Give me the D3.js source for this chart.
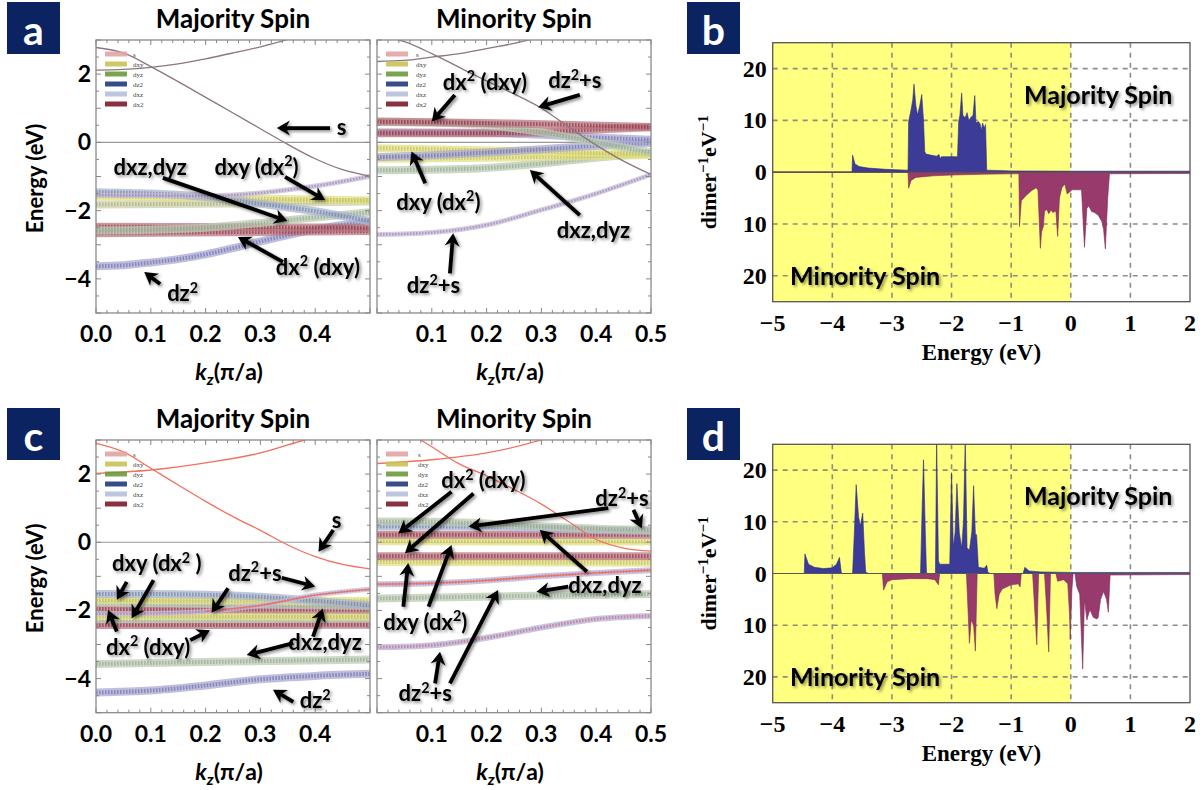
<!DOCTYPE html>
<html><head><meta charset="utf-8">
<script src="https://cdn.jsdelivr.net/npm/d3@7"></script>
<style>body{margin:0;background:#fff}svg{display:block}</style>
</head><body>
<svg id="fig" width="1203" height="790"></svg>
<script>
// ---------- band structure data: [kz (pi/a), energy (eV)] ----------
const orbitalNames = ['s','dxy','dyz','dz2','dxz','dx2'];

// (a) majority
const aMajThinDown = [[0,2.78],[0.05,2.62],[0.1,2.22],[0.15,1.78],[0.2,1.32],[0.25,0.86],[0.3,0.4],[0.35,-0.06],[0.4,-0.48],[0.45,-0.8],[0.5,-0.99]];
const aMajThinUp   = [[0,2.12],[0.05,2.14],[0.1,2.2],[0.15,2.3],[0.2,2.45],[0.25,2.62],[0.3,2.8],[0.35,3.02],[0.4,3.3]];
const aMajXZ   = [[0,-1.46],[0.1,-1.5],[0.2,-1.6],[0.3,-1.8],[0.4,-2.02],[0.5,-2.31]];
const aMajZS   = [[0,-1.55],[0.1,-1.56],[0.2,-1.57],[0.3,-1.48],[0.4,-1.28],[0.5,-0.99]];
const aMajXY1  = [[0,-1.58],[0.25,-1.64],[0.5,-1.7]];
const aMajXY2  = [[0,-1.82],[0.25,-1.79],[0.5,-1.73]];
const aMajYZ   = [[0,-2.58],[0.1,-2.56],[0.2,-2.5],[0.3,-2.36],[0.4,-2.2],[0.5,-2.05]];
const aMajX2a  = [[0,-2.47],[0.5,-2.5]];
const aMajX2b  = [[0,-2.66],[0.5,-2.6]];
const aMajZ2   = [[0,-3.63],[0.05,-3.6],[0.1,-3.52],[0.15,-3.42],[0.2,-3.28],[0.25,-3.1],[0.3,-2.9],[0.35,-2.72],[0.4,-2.55],[0.45,-2.42],[0.5,-2.31]];

// (a) minority
const aMinThinDown = [[0,3.15],[0.05,2.95],[0.1,2.6],[0.15,2.2],[0.2,1.8],[0.25,1.42],[0.3,1.0],[0.35,0.45],[0.4,-0.08],[0.45,-0.55],[0.5,-0.94]];
const aMinThinUp   = [[0,2.37],[0.05,2.4],[0.1,2.5],[0.15,2.6],[0.2,2.75],[0.25,2.9],[0.3,3.1]];
const aMinX2a  = [[0,0.61],[0.25,0.55],[0.5,0.45]];
const aMinYZa  = [[0,0.6],[0.1,0.58],[0.2,0.5],[0.3,0.3],[0.4,0.0],[0.5,-0.3]];
const aMinX2b  = [[0,0.27],[0.2,0.27],[0.3,0.3],[0.4,0.38],[0.5,0.44]];
const aMinZ2a  = [[0,0.3],[0.2,0.28],[0.3,0.22],[0.4,0.14],[0.5,0.08]];
const aMinZ2b  = [[0,-0.43],[0.1,-0.38],[0.2,-0.3],[0.3,-0.2],[0.4,-0.1],[0.5,-0.02]];
const aMinXY1  = [[0,-0.17],[0.25,-0.25],[0.5,-0.35]];
const aMinXY2  = [[0,-0.48],[0.25,-0.44],[0.5,-0.37]];
const aMinYZb  = [[0,-0.82],[0.1,-0.8],[0.2,-0.75],[0.3,-0.62],[0.4,-0.45],[0.5,-0.32]];
const aMinZS   = [[0,-2.7],[0.1,-2.64],[0.2,-2.42],[0.3,-1.98],[0.4,-1.5],[0.5,-0.94]];

// (c) majority
const cMajThinDown = [[0,2.9],[0.05,2.65],[0.1,2.17],[0.15,1.68],[0.2,1.2],[0.25,0.75],[0.3,0.35],[0.35,-0.08],[0.4,-0.42],[0.45,-0.65],[0.5,-0.78]];
const cMajThinUp   = [[0,2.02],[0.1,2.12],[0.2,2.33],[0.3,2.62],[0.38,3.0],[0.45,3.3]];
const cMajXZ   = [[0,-1.52],[0.1,-1.52],[0.2,-1.54],[0.3,-1.6],[0.4,-1.72],[0.5,-1.85]];
const cMajZS   = [[0,-2.1],[0.1,-2.09],[0.2,-2.03],[0.3,-1.85],[0.4,-1.55],[0.5,-1.38]];
const cMajXY1  = [[0,-1.69],[0.5,-1.72]];
const cMajYZ1  = [[0,-1.77],[0.5,-1.87]];
const cMajX2a  = [[0,-1.96],[0.5,-1.98]];
const cMajXY2  = [[0,-2.16],[0.5,-2.18]];
const cMajYZ2  = [[0,-2.26],[0.5,-2.24]];
const cMajX2b  = [[0,-2.43],[0.5,-2.42]];
const cMajYZ3  = [[0,-3.57],[0.25,-3.5],[0.5,-3.44]];
const cMajZ2   = [[0,-4.41],[0.1,-4.35],[0.2,-4.2],[0.3,-4.02],[0.4,-3.92],[0.5,-3.86]];

// (c) minority
const cMinThinDown = [[0.06,3.2],[0.1,2.8],[0.15,2.3],[0.2,1.95],[0.25,1.55],[0.3,1.12],[0.35,0.6],[0.4,0.08],[0.45,-0.17],[0.5,-0.26]];
const cMinThinUp   = [[0,2.31],[0.1,2.42],[0.2,2.62],[0.3,3.0],[0.35,3.25]];
const cMinYZa  = [[0,0.61],[0.1,0.6],[0.2,0.55],[0.3,0.47],[0.4,0.4],[0.5,0.37]];
const cMinZSa  = [[0,0.47],[0.2,0.46],[0.3,0.42],[0.4,0.36],[0.5,0.33]];
const cMinX2a  = [[0,0.22],[0.5,0.22]];
const cMinXY1  = [[0,0.03],[0.5,0.02]];
const cMinX2b  = [[0,-0.41],[0.5,-0.41]];
const cMinXY2  = [[0,-0.58],[0.5,-0.6]];
const cMinZSb  = [[0,-1.23],[0.1,-1.2],[0.2,-1.12],[0.3,-1.0],[0.4,-0.9],[0.5,-0.82]];
const cMinYZb  = [[0,-1.65],[0.25,-1.58],[0.5,-1.52]];
const cMinZSc  = [[0,-3.08],[0.1,-3.02],[0.2,-2.8],[0.3,-2.5],[0.4,-2.25],[0.5,-2.16]];

// ---------- density of states: [energy (eV), states per dimer per eV] ----------
const dosBMaj = [[-5,0],[-3.67,0],[-3.66,3.3],[-3.62,1.6],[-3.55,1.1],[-3.4,0.8],[-3.1,0.55],[-2.75,0.4],[-2.73,0.4],
 [-2.72,9.8],[-2.68,12],[-2.65,14],[-2.63,17],[-2.6,13],[-2.57,11],[-2.53,13],[-2.5,15],[-2.47,10],[-2.45,4],[-2.43,3.5],
 [-2.35,3.3],[-2.25,3.1],[-2.21,3.4],[-2.19,2.6],[-2.17,3.0],[-2.05,3.0],[-1.9,3.0],
 [-1.88,9.8],[-1.86,11],[-1.83,15.3],[-1.81,11],[-1.77,10.5],[-1.74,11.5],[-1.71,10],[-1.68,10.5],[-1.64,11],[-1.61,14.8],
 [-1.59,9.5],[-1.55,9.8],[-1.52,9.3],[-1.5,8],[-1.48,9.5],[-1.45,8.5],[-1.43,9.2],[-1.41,0.4],[-1,0.25],[0,0.2],[2,0.2]];
const dosBMin = [[-5,0],[-2.73,0],[-2.72,3.1],[-2.68,1.6],[-2.6,1.0],[-2.3,0.7],[-2,0.55],[-1.5,0.4],[-1,0.3],[-0.87,0.3],
 [-0.86,10.5],[-0.83,5.5],[-0.75,4.5],[-0.65,3.5],[-0.58,3.0],[-0.55,3.5],[-0.51,14.7],[-0.49,11.5],[-0.46,10.5],[-0.44,7.5],
 [-0.4,7.2],[-0.37,8],[-0.33,7.3],[-0.3,7.8],[-0.25,7.5],[-0.22,12.4],[-0.19,5],[-0.15,3],[-0.1,2.3],[-0.06,4.2],[-0.02,3.8],
 [0.02,3.4],[0.18,3.4],[0.23,14.5],[0.27,7],[0.3,6.5],[0.35,7.6],[0.4,7.8],[0.46,8.3],[0.52,9.5],[0.55,11],[0.58,14.8],
 [0.62,5],[0.65,0.3],[2,0.25]];
const dosDMaj = [[-5,0],[-4.47,0],[-4.46,3.8],[-4.4,1.8],[-4.3,1.2],[-4.15,0.95],[-4.0,1.1],[-3.93,1.8],[-3.88,3.1],[-3.85,0.3],[-3.84,0],
 [-3.66,0],[-3.63,8],[-3.6,17.2],[-3.56,11],[-3.53,9.2],[-3.49,11.7],[-3.46,4],[-3.44,0.3],[-3.4,0],
 [-2.52,0],[-2.49,14],[-2.47,22],[-2.44,8],[-2.42,0],
 [-2.27,0],[-2.25,26],[-2.22,2.5],[-2.2,1.8],[-2.03,1.8],[-2.0,19.5],[-1.97,5],[-1.94,8],[-1.91,17.4],[-1.87,8],[-1.83,4.9],
 [-1.8,10],[-1.77,26],[-1.74,5],[-1.7,4.5],[-1.66,8],[-1.63,17],[-1.6,7.5],[-1.58,7.5],[-1.55,1.2],[-1.45,1.0],[-1.41,1.6],
 [-1.39,0.2],[-1.35,0],[-0.8,0],[-0.77,1.2],[-0.7,0.5],[-0.5,0.3],[0,0.2],[2,0.2]];
const dosDMin = [[-5,0],[-3.16,0],[-3.14,3.2],[-3.08,1.6],[-3.0,1.2],[-2.7,1.0],[-2.4,1.0],[-2.28,1.2],[-2.22,2.2],[-2.2,0],
 [-1.75,0],[-1.72,8],[-1.7,13.5],[-1.67,9],[-1.63,10],[-1.6,15],[-1.57,0],
 [-1.29,0],[-1.27,4],[-1.24,6.8],[-1.2,4],[-1.15,3],[-1.0,2.2],[-0.88,2.0],[-0.85,2.6],[-0.83,0],
 [-0.64,0],[-0.6,8],[-0.57,13.8],[-0.54,0],
 [-0.44,0],[-0.4,8],[-0.37,15.2],[-0.34,0],
 [-0.25,0],[-0.22,1.5],[-0.12,1.2],[-0.05,2],[-0.02,8],[-0.01,12.8],[0.02,3],[0.04,0],
 [0.07,0],[0.1,2.5],[0.15,4],[0.2,18.5],[0.23,5],[0.27,9],[0.32,7],[0.38,8.5],[0.44,8.8],[0.46,8.5],[0.5,5],[0.55,3.5],
 [0.6,5],[0.63,7.5],[0.66,0.3],[2,0.2]];

const bandYTicks = [-4,-2,0,2];
const dosXTicks = [-5,-4,-3,-2,-1,0,1,2];
const dosYTicks = [-20,-10,0,10,20];

// ---------- drawing ----------
const svg = d3.select('#fig');
const defs = svg.append('defs');
const shadow = defs.append('filter').attr('id','shadow')
  .attr('x','-20%').attr('y','-30%').attr('width','150%').attr('height','170%');
shadow.append('feDropShadow').attr('dx',1.8).attr('dy',1.8).attr('stdDeviation',1.4)
  .attr('flood-color','#000').attr('flood-opacity',0.45);

const SANS = 'Lato, "Open Sans", sans-serif';
const SERIF = '"Liberation Serif", "DejaVu Serif", serif';

// fat-band looks
const ST = {
  xz:  {outer:'#a9b6cf', inner:'#6676a4', w:8},
  zs:  {outer:'#c7bbdb', inner:'#9479a6', w:5},
  xy:  {outer:'#e2e288', inner:'#c0b84c', w:8},
  xyg: {outer:'#cdd0ac', inner:'#a6a676', w:8},
  yz:  {outer:'#bccbb4', inner:'#8ca28a', w:8},
  x2:  {outer:'#b87580', inner:'#85283a', w:8},
  z2:  {outer:'#aaaad2', inner:'#6464a8', w:8},
  zsr: {outer:'#b4b4dc', inner:'#d05868', w:6}
};
const legendColors = ['#e3a3a3','#c9c257','#6b9a3c','#1f3b7d','#b7c0da','#7d1a2f'];

// text with ^n superscripts
function parseSup(sel, str, size){
  const parts = str.split(/\^(\d)/);
  let back = 0;
  parts.forEach((p,i)=>{
    if(!p) return;
    if(i%2===1){
      sel.append('tspan').attr('dy', -size*0.38).attr('font-size', size*0.65).text(p);
      back = size*0.38;
    } else {
      const t = sel.append('tspan').text(p);
      if(back){ t.attr('dy', back); back = 0; }
    }
  });
}

function arrow(g, x1,y1,x2,y2){
  const dx=x2-x1, dy=y2-y1, L=Math.hypot(dx,dy), ux=dx/L, uy=dy/L;
  const hl=13, hw=7.5;
  const bx=x2-ux*hl, by=y2-uy*hl;
  g.append('line').attr('x1',x1).attr('y1',y1).attr('x2',x2-ux*(hl-4)).attr('y2',y2-uy*(hl-4))
    .attr('stroke','#000').attr('stroke-width',3.8);
  g.append('path').attr('d',`M${x2},${y2} L${bx-uy*hw},${by+ux*hw} L${x2-ux*(hl-4)},${y2-uy*(hl-4)} L${bx+uy*hw},${by-ux*hw} Z`)
    .attr('fill','#000');
}

function panelLabel(x,y,letter){
  svg.append('rect').attr('x',x).attr('y',y).attr('width',53).attr('height',52).attr('fill','#0b2361');
  svg.append('text').attr('x',x+26.5).attr('y',y+43).attr('text-anchor','middle')
    .attr('font-family',SANS).attr('font-weight',700).attr('font-size',41).attr('fill','#fff').text(letter);
}

let clipId = 0;
function bandPanel(cfg){
  const x = d3.scaleLinear().domain([0,0.5]).range([cfg.left,cfg.right]);
  const y = d3.scaleLinear().domain([-5,3]).range([cfg.bottom,cfg.top]);
  const g = svg.append('g');
  const id = 'clip'+(clipId++);
  defs.append('clipPath').attr('id',id).append('rect')
    .attr('x',cfg.left).attr('y',cfg.top).attr('width',cfg.right-cfg.left).attr('height',cfg.bottom-cfg.top);
  const plot = g.append('g').attr('clip-path',`url(#${id})`);
  // Fermi level
  plot.append('line').attr('x1',x(0)).attr('x2',x(0.5)).attr('y1',y(0)).attr('y2',y(0))
    .attr('stroke','#999').attr('stroke-width',1.2);
  const line = d3.line().x(d=>x(d[0])).y(d=>y(d[1])).curve(d3.curveMonotoneX);
  cfg.bands.forEach(([data,st])=>{
    plot.append('path').attr('d',line(data)).attr('fill','none')
      .attr('stroke',st.outer).attr('stroke-width',st.w).attr('opacity',0.75);
    plot.append('path').attr('d',line(data)).attr('fill','none')
      .attr('stroke',st.inner).attr('stroke-width',st.w*0.5).attr('stroke-dasharray','1.6 1.4').attr('opacity',0.6);
  });
  cfg.thin.forEach(data=>{
    plot.append('path').attr('d',line(data)).attr('fill','none')
      .attr('stroke',cfg.thinColor).attr('stroke-width',1.3);
  });
  // frame and inward ticks
  g.append('rect').attr('x',cfg.left).attr('y',cfg.top).attr('width',cfg.right-cfg.left).attr('height',cfg.bottom-cfg.top)
    .attr('fill','none').attr('stroke','#8a8a8a').attr('stroke-width',1.3);
  d3.range(0,0.5001,0.02).forEach(k=>{
    const major = Math.abs(k*10-Math.round(k*10))<1e-6;
    const len = major?5:3;
    g.append('line').attr('x1',x(k)).attr('x2',x(k)).attr('y1',cfg.bottom).attr('y2',cfg.bottom-len).attr('stroke','#888');
    g.append('line').attr('x1',x(k)).attr('x2',x(k)).attr('y1',cfg.top).attr('y2',cfg.top+len).attr('stroke','#888');
  });
  d3.range(-5,3.001,0.5).forEach(e=>{
    const len = Number.isInteger(e)?5:3;
    g.append('line').attr('x1',cfg.left).attr('x2',cfg.left+len).attr('y1',y(e)).attr('y2',y(e)).attr('stroke','#888');
    g.append('line').attr('x1',cfg.right).attr('x2',cfg.right-len).attr('y1',y(e)).attr('y2',y(e)).attr('stroke','#888');
  });
  // tick labels
  cfg.kLabels.forEach(k=>{
    g.append('text').attr('x',x(k)).attr('y',cfg.bottom+29).attr('text-anchor','middle')
      .attr('font-family',SANS).attr('font-weight',700).attr('font-size',23).text(k.toFixed(1));
  });
  if(cfg.yLabels){
    bandYTicks.forEach(e=>{
      g.append('text').attr('x',cfg.left-5).attr('y',y(e)+8).attr('text-anchor','end')
        .attr('font-family',SANS).attr('font-weight',700).attr('font-size',23)
        .text(e<0?'\u2212'+Math.abs(e):String(e));
    });
    const cy=(cfg.top+cfg.bottom)/2+2;
    g.append('text').attr('transform',`translate(43,${cy}) rotate(-90)`).attr('text-anchor','middle')
      .attr('font-family',SANS).attr('font-weight',700).attr('font-size',22).text('Energy (eV)');
  }
  // title
  g.append('text').attr('x',(cfg.left+cfg.right)/2).attr('y',cfg.top-12).attr('text-anchor','middle')
    .attr('font-family',SANS).attr('font-weight',700).attr('font-size',26).text(cfg.title);
  // axis title
  const at = g.append('text').attr('x',(cfg.left+cfg.right)/2-4).attr('y',cfg.bottom+67).attr('text-anchor','middle')
    .attr('font-family',SANS).attr('font-weight',700).attr('font-size',23);
  at.append('tspan').attr('font-style','italic').text('k');
  at.append('tspan').attr('font-style','italic').attr('font-size',16).attr('dy',5).text('z');
  at.append('tspan').attr('dy',-5).text('(\u03c0/a)');
  // legend
  const lx = cfg.left + (cfg.legendDx||9), ly = cfg.top + 14;
  orbitalNames.forEach((n,i)=>{
    g.append('rect').attr('x',lx).attr('y',ly+i*10-2.5).attr('width',22).attr('height',5)
      .attr('fill',legendColors[i]).attr('opacity',0.9);
    g.append('text').attr('x',lx+(cfg.legendTx||28)).attr('y',ly+i*10+2.5)
      .attr('font-family',SERIF).attr('font-size',7).attr('fill','#444').text(n);
  });
  // annotations
  const ann = g.append('g').attr('filter','url(#shadow)');
  cfg.notes.forEach(([txt,tk,te,arrows])=>{
    arrows.forEach(([k1,e1,k2,e2])=>arrow(ann,x(k1),y(e1),x(k2),y(e2)));
    const t = ann.append('text').attr('x',x(tk)).attr('y',y(te)+8).attr('text-anchor','middle')
      .attr('font-family',SANS).attr('font-weight',700).attr('font-size',22);
    parseSup(t,txt,22);
  });
}

function dosPanel(cfg){
  const x = d3.scaleLinear().domain([-5,2]).range([772.7,1190]);
  const y = d3.scaleLinear().domain([-25,25]).range([cfg.bottom,cfg.top]);
  const g = svg.append('g');
  g.append('rect').attr('x',x(-5)).attr('y',cfg.top).attr('width',x(0)-x(-5)).attr('height',cfg.bottom-cfg.top)
    .attr('fill','#ffff80');
  const grid = g.append('g').attr('stroke','#7a7a7a').attr('stroke-width',1.6).attr('stroke-dasharray','5 5').attr('opacity',0.85);
  [-4,-3,-2,-1,0,1].forEach(e=>grid.append('line').attr('x1',x(e)).attr('x2',x(e)).attr('y1',cfg.top).attr('y2',cfg.bottom));
  [-20,-10,10,20].forEach(v=>grid.append('line').attr('x1',x(-5)).attr('x2',x(2)).attr('y1',y(v)).attr('y2',y(v)));
  const clip = 'dclip'+(clipId++);
  defs.append('clipPath').attr('id',clip).append('rect').attr('x',x(-5)).attr('y',cfg.top).attr('width',x(2)-x(-5)).attr('height',cfg.bottom-cfg.top);
  const p = g.append('g').attr('clip-path',`url(#${clip})`);
  p.append('path').datum(cfg.maj).attr('fill','#3c3c98').attr('stroke','#2e2e80').attr('stroke-width',0.6)
    .attr('d',d3.area().x(d=>x(d[0])).y0(y(0)).y1(d=>y(d[1])));
  p.append('path').datum(cfg.min).attr('fill','#983a6c').attr('stroke','#7e2c58').attr('stroke-width',0.6)
    .attr('d',d3.area().x(d=>x(d[0])).y0(y(0)).y1(d=>y(-d[1])));
  g.append('line').attr('x1',x(-5)).attr('x2',x(2)).attr('y1',y(0)).attr('y2',y(0)).attr('stroke','#555').attr('stroke-width',1);
  g.append('rect').attr('x',x(-5)).attr('y',cfg.top).attr('width',x(2)-x(-5)).attr('height',cfg.bottom-cfg.top)
    .attr('fill','none').attr('stroke','#555').attr('stroke-width',1.3);
  dosXTicks.forEach(e=>{
    g.append('text').attr('x',x(e)).attr('y',cfg.bottom+29).attr('text-anchor','middle')
      .attr('font-family',SERIF).attr('font-weight',700).attr('font-size',24)
      .text(e<0?'\u2212'+Math.abs(e):String(e));
  });
  dosYTicks.forEach(v=>{
    g.append('text').attr('x',x(-5)-6).attr('y',y(v)+8).attr('text-anchor','end')
      .attr('font-family',SERIF).attr('font-weight',700).attr('font-size',24).text(String(Math.abs(v)));
  });
  g.append('text').attr('x',(x(-5)+x(2))/2).attr('y',cfg.bottom+58).attr('text-anchor','middle')
    .attr('font-family',SERIF).attr('font-weight',700).attr('font-size',23).text('Energy (eV)');
  const yl = g.append('text').attr('transform',`translate(716,${(cfg.top+cfg.bottom)/2}) rotate(-90)`).attr('text-anchor','middle')
    .attr('font-family',SERIF).attr('font-weight',700).attr('font-size',22);
  yl.append('tspan').text('dimer');
  yl.append('tspan').attr('dy',-8).attr('font-size',15).text('\u22121');
  yl.append('tspan').attr('dy',8).text('eV');
  yl.append('tspan').attr('dy',-8).attr('font-size',15).text('\u22121');
  const lab = g.append('g').attr('filter','url(#shadow)').attr('font-family',SANS).attr('font-weight',700).attr('font-size',25);
  lab.append('text').attr('x',x(0.46)).attr('y',y(15)+9).attr('text-anchor','middle').text('Majority Spin');
  lab.append('text').attr('x',x(-3.45)).attr('y',y(-20)+9).attr('text-anchor','middle').text('Minority Spin');
}

// (a)
bandPanel({left:96,right:370,top:40,bottom:313,title:'Majority Spin',yLabels:true,kLabels:[0,0.1,0.2,0.3,0.4],thinColor:'#8c7682',
  thin:[aMajThinDown,aMajThinUp],
  bands:[[aMajZ2,ST.z2],[aMajX2b,ST.x2],[aMajX2a,ST.x2],[aMajYZ,ST.yz],[aMajXY2,ST.xyg],[aMajXY1,ST.xy],[aMajXZ,ST.xz],[aMajZS,ST.zs]],
  notes:[
    ['s',0.448,0.46,[[0.427,0.42,0.33,0.42]]],
    ['dxz,dyz',0.099,-0.71,[[0.122,-1.04,0.349,-2.3]]],
    ['dxy (dx^2)',0.293,-0.71,[[0.345,-1.01,0.418,-1.69]]],
    ['dx^2 (dxy)',0.405,-3.64,[[0.341,-3.5,0.259,-2.77]]],
    ['dz^2',0.158,-4.42,[[0.117,-4.15,0.088,-3.8]]]
  ]});
bandPanel({left:377,right:651,top:40,bottom:313,title:'Minority Spin',yLabels:false,kLabels:[0.1,0.2,0.3,0.4,0.5],thinColor:'#8c7682',legendTx:30,
  thin:[aMinThinDown,aMinThinUp],
  bands:[[aMinZS,ST.zs],[aMinYZb,ST.yz],[aMinXY2,ST.xy],[aMinXY1,ST.xy],[aMinZ2b,ST.z2],[aMinZ2a,ST.z2],[aMinX2b,ST.x2],[aMinYZa,ST.yz],[aMinX2a,ST.x2]],
  notes:[
    ['dx^2 (dxy)',0.197,1.78,[[0.142,1.39,0.1,0.61]]],
    ['dz^2+s',0.361,1.83,[[0.37,1.39,0.294,1.03]]],
    ['dxy (dx^2)',0.112,-1.74,[[0.088,-1.2,0.063,-0.27]]],
    ['dxz,dyz',0.395,-2.57,[[0.37,-2.13,0.279,-0.81]]],
    ['dz^2+s',0.103,-4.18,[[0.133,-3.84,0.139,-2.66]]]
  ]});
// (c)
bandPanel({left:96,right:370,top:440,bottom:712.7,title:'Majority Spin',yLabels:true,kLabels:[0,0.1,0.2,0.3,0.4],thinColor:'#f2705e',
  thin:[cMajThinDown,cMajThinUp,cMajZS.filter(d=>d[0]>=0.2)],
  bands:[[cMajZ2,ST.z2],[cMajYZ3,ST.yz],[cMajX2b,ST.x2],[cMajYZ2,ST.yz],[cMajXY2,ST.xy],[cMajX2a,ST.x2],[cMajYZ1,ST.yz],[cMajXY1,ST.xy],[cMajXZ,ST.xz],[cMajZS,ST.zs]],
  notes:[
    ['s',0.439,0.65,[[0.433,0.36,0.406,-0.28]]],
    ['dxy (dx^2 )',0.111,-0.62,[[0.056,-1.16,0.038,-1.69],[0.105,-1.11,0.065,-2.23]]],
    ['dz^2+s',0.29,-0.89,[[0.241,-1.35,0.211,-2.07],[0.339,-1.04,0.4,-1.3]]],
    ['dx^2 (dxy)',0.095,-3.06,[[0.038,-2.62,0.022,-1.99],[0.172,-2.87,0.208,-2.58]]],
    ['dxz,dyz',0.418,-2.92,[[0.36,-2.96,0.275,-3.31],[0.396,-2.77,0.414,-1.94]]],
    ['dz^2',0.4,-4.63,[[0.36,-4.68,0.323,-4.33]]]
  ]});
bandPanel({left:377,right:651,top:440,bottom:712.7,title:'Minority Spin',yLabels:false,kLabels:[0.1,0.2,0.3,0.4,0.5],thinColor:'#f2705e',legendTx:32,
  thin:[cMinThinDown,cMinThinUp,cMinZSb],
  bands:[[cMinZSc,ST.zsr],[cMinYZb,ST.yz],[cMinZSb,ST.zsr],[cMinXY2,ST.xy],[cMinX2b,ST.x2],[cMinXY1,ST.xy],[cMinX2a,ST.x2],[cMinZSa,ST.xz],[cMinYZa,ST.yz]],
  notes:[
    ['dx^2 (dxy)',0.194,1.83,[[0.136,1.48,0.039,0.26],[0.176,1.43,0.051,-0.32]]],
    ['dz^2+s',0.447,1.29,[[0.422,1.0,0.167,0.46],[0.468,0.95,0.483,0.41]]],
    ['dxy (dx^2)',0.088,-2.33,[[0.048,-1.89,0.057,-0.61],[0.094,-1.89,0.136,-0.08]]],
    ['dxz,dyz',0.416,-1.25,[[0.349,-1.3,0.291,-1.45],[0.383,-0.86,0.297,0.36]]],
    ['dz^2+s',0.088,-4.43,[[0.106,-4.14,0.115,-3.21],[0.133,-4.14,0.221,-1.4]]]
  ]});

// (b), (d)
dosPanel({top:42.7,bottom:301.7,maj:dosBMaj,min:dosBMin});
dosPanel({top:444.3,bottom:702.7,maj:dosDMaj,min:dosDMin});

panelLabel(7,2,'a');
panelLabel(687,2,'b');
panelLabel(7,408,'c');
panelLabel(687,408,'d');
</script>
</body></html>
